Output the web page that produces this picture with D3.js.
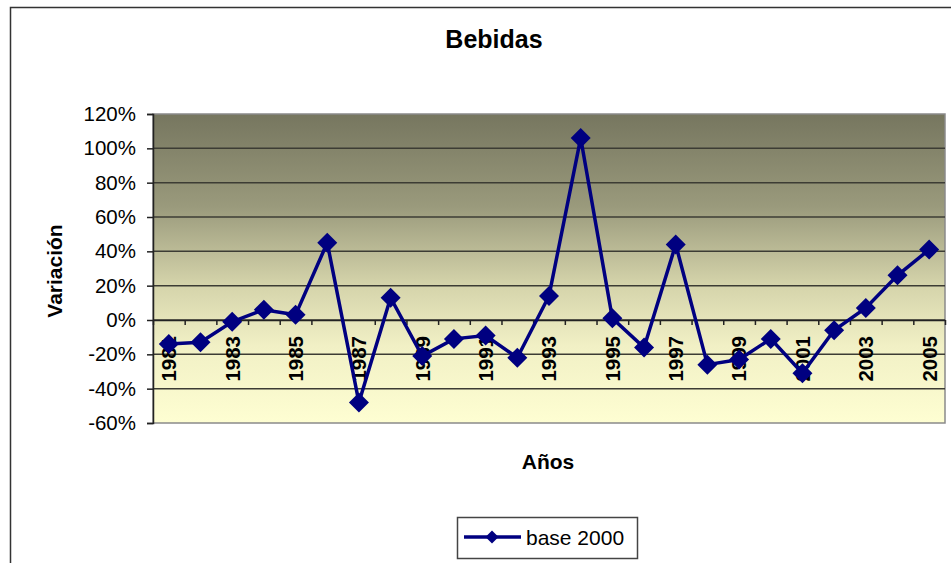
<!DOCTYPE html>
<html>
<head>
<meta charset="utf-8">
<script src="https://cdn.jsdelivr.net/npm/d3@7"></script>
<style>
  body { margin: 0; background: #fff; }
  text { font-family: Arial, "Liberation Sans", sans-serif; fill: #000; }
</style>
</head>
<body>
<svg width="951" height="563"></svg>
<script>
var years = ['1981','1982','1983','1984','1985','1986','1987','1988','1989','1990',
             '1991','1992','1993','1994','1995','1996','1997','1998','1999','2000',
             '2001','2002','2003','2004','2005'];
var values = [-0.14, -0.13, -0.01, 0.06, 0.03, 0.45, -0.48, 0.13, -0.21, -0.11,
              -0.09, -0.22, 0.14, 1.06, 0.01, -0.16, 0.44, -0.26, -0.23, -0.11,
              -0.31, -0.06, 0.07, 0.26, 0.41];
var yTicks = [-0.6, -0.4, -0.2, 0, 0.2, 0.4, 0.6, 0.8, 1.0, 1.2];
var yearLabels = ['1981','1983','1985','1987','1989','1991','1993','1995','1997',
                  '1999','2001','2003','2005'];
var seriesName = 'base 2000';

var svg = d3.select('svg');
var defs = svg.append('defs');

var plotLeft = 153, plotRight = 945, plotTop = 114, plotBottom = 423;

var x = d3.scaleBand().domain(years).range([plotLeft, plotRight]).padding(0);
var xEdge = d3.scaleLinear().domain([0, years.length]).range([plotLeft, plotRight]);
var y = d3.scaleLinear().domain([-0.6, 1.2]).range([plotBottom, plotTop]);

// chart frame
svg.append('path')
    .attr('d', 'M10.5,563V7.5H951')
    .attr('fill', 'none')
    .attr('stroke', '#333')
    .attr('stroke-width', 1.5);

var grad = defs.append('linearGradient')
    .attr('id', 'bg')
    .attr('x1', 0).attr('y1', 0)
    .attr('x2', 0).attr('y2', 1);
grad.append('stop').attr('offset', '0%').attr('stop-color', '#76765f');
grad.append('stop').attr('offset', '30%').attr('stop-color', '#9a9a7c');
grad.append('stop').attr('offset', '55%').attr('stop-color', '#d4d3aa');
grad.append('stop').attr('offset', '75%').attr('stop-color', '#f1f0c5');
grad.append('stop').attr('offset', '100%').attr('stop-color', '#fefed2');

svg.append('rect')
    .attr('x', plotLeft)
    .attr('y', plotTop)
    .attr('width', plotRight - plotLeft)
    .attr('height', plotBottom - plotTop)
    .attr('fill', 'url(#bg)')
    .attr('stroke', '#8a8a8a')
    .attr('stroke-width', 1.5);

// gridlines
svg.selectAll('line.grid')
    .data(yTicks.filter(function(d){ return d > -0.6 && d < 1.2; }))
    .enter()
    .append('line')
    .attr('class', 'grid')
    .attr('x1', plotLeft)
    .attr('x2', plotRight)
    .attr('y1', function(d){ return y(d); })
    .attr('y2', function(d){ return y(d); })
    .attr('stroke', '#3c3c34')
    .attr('stroke-width', 1.5);

// y axis
var yAxis = svg.append('g')
    .attr('transform', 'translate(' + plotLeft + ',0)')
    .call(d3.axisLeft(y)
        .tickValues(yTicks)
        .tickSize(6)
        .tickPadding(11)
        .tickFormat(function(d){ return Math.round(d * 100) + '%'; }));
yAxis.select('.domain').attr('stroke', '#222').attr('stroke-width', 1.5);
yAxis.selectAll('.tick line').attr('stroke', '#222').attr('stroke-width', 1.5);
yAxis.selectAll('.tick text')
    .attr('font-size', 20.5)
    .attr('font-family', 'Arial, "Liberation Sans", sans-serif')
    .attr('fill', '#000');

// x axis at 0%
var xAxis = svg.append('g')
    .attr('transform', 'translate(0,' + y(0) + ')')
    .call(d3.axisBottom(xEdge)
        .tickValues(d3.range(years.length + 1))
        .tickSize(5)
        .tickSizeOuter(0)
        .tickFormat(''));
xAxis.select('.domain').attr('stroke', '#222').attr('stroke-width', 1.5);
xAxis.selectAll('.tick line').attr('stroke', '#222').attr('stroke-width', 1.5);

svg.selectAll('text.xlab')
    .data(yearLabels)
    .enter()
    .append('text')
    .attr('class', 'xlab')
    .attr('transform', function(d){
        return 'translate(' + (x(d) + x.bandwidth() / 2) + ',' + (y(0) + 16) + ') rotate(-90)';
    })
    .attr('text-anchor', 'end')
    .attr('dy', '0.36em')
    .attr('font-size', 20.5)
    .attr('font-weight', 'bold')
    .text(function(d){ return d; });

// line
var lineFunction = d3.line()
    .x(function(d, i){ return x(years[i]) + x.bandwidth() / 2; })
    .y(function(d){ return y(d); });

svg.append('path')
    .datum(values)
    .attr('d', lineFunction)
    .attr('fill', 'none')
    .attr('stroke', '#000080')
    .attr('stroke-width', 3.5)
    .attr('stroke-linejoin', 'miter');

function diamond(r) {
    return 'M0,' + (-r) + 'L' + r + ',0L0,' + r + 'L' + (-r) + ',0Z';
}

svg.selectAll('path.marker')
    .data(values)
    .enter()
    .append('path')
    .attr('class', 'marker')
    .attr('transform', function(d, i){
        return 'translate(' + (x(years[i]) + x.bandwidth() / 2) + ',' + y(d) + ')';
    })
    .attr('d', diamond(10))
    .attr('fill', '#000080');

// titles
svg.append('text')
    .attr('x', 494)
    .attr('y', 48)
    .attr('text-anchor', 'middle')
    .attr('font-size', 25)
    .attr('font-weight', 'bold')
    .text('Bebidas');

svg.append('text')
    .attr('x', 548)
    .attr('y', 469)
    .attr('text-anchor', 'middle')
    .attr('font-size', 21)
    .attr('font-weight', 'bold')
    .text('Años');

svg.append('text')
    .attr('transform', 'translate(62,271) rotate(-90)')
    .attr('text-anchor', 'middle')
    .attr('font-size', 21)
    .attr('font-weight', 'bold')
    .text('Variación');

// legend
var legend = svg.append('g');
legend.append('rect')
    .attr('x', 457.5)
    .attr('y', 517.5)
    .attr('width', 180)
    .attr('height', 41)
    .attr('fill', '#fff')
    .attr('stroke', '#444')
    .attr('stroke-width', 1.5);
legend.append('line')
    .attr('x1', 464)
    .attr('x2', 521)
    .attr('y1', 537)
    .attr('y2', 537)
    .attr('stroke', '#000080')
    .attr('stroke-width', 3.5);
legend.append('path')
    .attr('transform', 'translate(492,537)')
    .attr('d', diamond(6.5))
    .attr('fill', '#000080');
legend.append('text')
    .attr('x', 526)
    .attr('y', 545)
    .attr('font-size', 21)
    .text(seriesName);
</script>
</body>
</html>
